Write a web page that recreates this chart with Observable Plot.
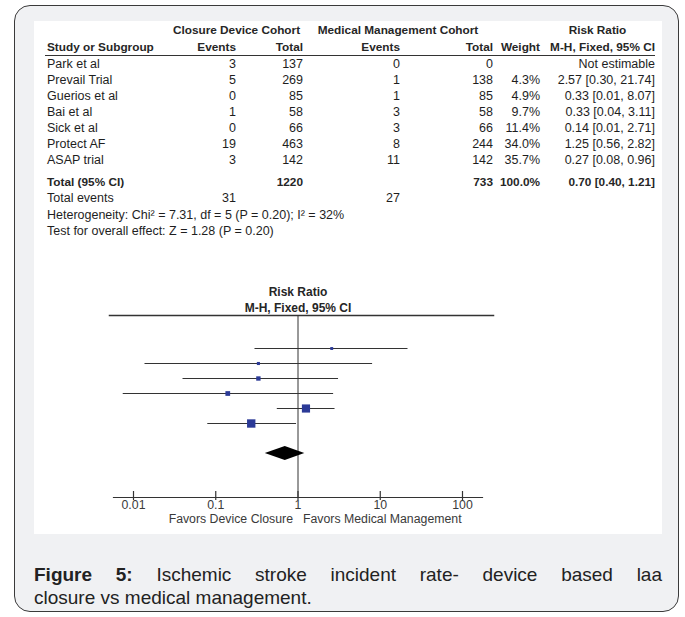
<!DOCTYPE html>
<html><head><meta charset="utf-8">
<script src="https://cdn.jsdelivr.net/npm/d3@7"></script>
<script src="https://cdn.jsdelivr.net/npm/@observablehq/plot@0.6"></script>
<style>
html,body{margin:0;padding:0;background:#fff;}
#page{position:relative;width:685px;height:617px;overflow:hidden;background:#fff;}
#frame{position:absolute;left:14px;top:5px;width:665px;height:607px;border:1.5px solid #3a3a3a;border-radius:16px;background:#f0f1f3;box-sizing:border-box;}
#panel{position:absolute;left:34px;top:21px;width:628px;height:513px;background:#fff;}
#tbl{position:absolute;left:11px;top:0.5px;border-collapse:collapse;table-layout:fixed;font-family:"Liberation Sans",Arial,sans-serif;font-size:12.5px;color:#1e1e1e;}
#tbl td{padding:0;white-space:nowrap;text-align:right;vertical-align:middle;overflow:visible;}
#tbl td.l{text-align:left;padding-left:2px;}
#tbl td.c{text-align:center;}
#tbl tr.b td{font-weight:bold;font-size:11.8px;color:#262626;}
#tbl tr.hd td{border-bottom:1.6px solid #333;}
#forest{position:absolute;left:0;top:255px;}
#caption{position:absolute;left:34px;top:563px;width:628px;font-family:"Liberation Sans",Arial,sans-serif;font-size:19px;line-height:23px;color:#222;}
#caption .l1{text-align:justify;text-align-last:justify;}
</style>
</head><body>
<div id="page">
  <div id="frame"></div>
  <div id="panel">
    <table id="tbl"></table>
    <div id="forest"></div>
  </div>
  <div id="caption"></div>
</div>
<script>
// ---- data ----
const studies   = ["Park et al","Prevail Trial","Guerios et al","Bai et al","Sick et al","Protect AF","ASAP trial"];
const cEvents   = [3,5,0,1,0,19,3];
const cTotal    = [137,269,85,58,66,463,142];
const mEvents   = [0,1,1,3,3,8,11];
const mTotal    = [0,138,85,58,66,244,142];
const weights   = [null,4.3,4.9,9.7,11.4,34.0,35.7];
const riskRatio = [null,2.57,0.33,0.33,0.14,1.25,0.27];
const ciLow     = [null,0.30,0.0138,0.04,0.0075,0.56,0.08];
const ciHigh    = [null,21.74,8.07,3.11,2.71,2.82,0.96];
const totalLabel = "Total (95% CI)";
const totalC = 1220, totalM = 733;
const totalEventsC = 31, totalEventsM = 27;
const pooled = {rr:0.70, lo:0.40, hi:1.21, weight:100.0};
const heterogeneityText = "Heterogeneity: Chi\u00b2 = 7.31, df = 5 (P = 0.20); I\u00b2 = 32%";
const overallText = "Test for overall effect: Z = 1.28 (P = 0.20)";
const tickValues = [0.01,0.1,1,10,100];
const favorsLeft = "Favors Device Closure";
const favorsRight = "Favors Medical Management";
const captionBold = "Figure 5:";
const captionLine1 = " Ischemic stroke incident rate- device based laa";
const captionLine2 = "closure vs medical management.";

const f2 = v => v.toFixed(2);
const ciText = (r,l,h) => r == null ? "Not estimable" : `${f2(r)} [${f2(l)}, ${f2(h)}]`;

// ---- table ----
const colW = [125,66,67,97,93,47,115];
let html = "<colgroup>" + colW.map(w=>`<col style="width:${w}px">`).join("") + "</colgroup>";
html += `<tr class="b" style="height:17px"><td></td><td class="c" colspan="2">Closure Device Cohort</td><td class="c" colspan="2">Medical Management Cohort</td><td></td><td class="c">Risk Ratio</td></tr>`;
html += `<tr class="b hd" style="height:17px"><td class="l">Study or Subgroup</td><td>Events</td><td>Total</td><td>Events</td><td>Total</td><td>Weight</td><td>M-H, Fixed, 95% CI</td></tr>`;
studies.forEach((s,i)=>{
  html += `<tr style="height:16px"><td class="l">${s}</td><td>${cEvents[i]}</td><td>${cTotal[i]}</td><td>${mEvents[i]}</td><td>${mTotal[i]}</td><td>${weights[i]==null?"":weights[i].toFixed(1)+"%"}</td><td>${ciText(riskRatio[i],ciLow[i],ciHigh[i])}</td></tr>`;
});
html += `<tr style="height:6px"><td colspan="7"></td></tr>`;
html += `<tr class="b" style="height:16px"><td class="l">${totalLabel}</td><td></td><td>${totalC}</td><td></td><td>${totalM}</td><td>${pooled.weight.toFixed(1)}%</td><td>${ciText(pooled.rr,pooled.lo,pooled.hi)}</td></tr>`;
html += `<tr style="height:17px"><td class="l">Total events</td><td>${totalEventsC}</td><td></td><td>${totalEventsM}</td><td></td><td></td><td></td></tr>`;
html += `<tr style="height:16.5px"><td class="l" colspan="7">${heterogeneityText}</td></tr>`;
html += `<tr style="height:16.5px"><td class="l" colspan="7">${overallText}</td></tr>`;
document.getElementById("tbl").innerHTML = html;

// ---- forest plot ----
const rows = studies.map((s,i)=>({study:s, rr:riskRatio[i], lo:ciLow[i], hi:ciHigh[i], weight:weights[i]})).filter(d=>d.rr!=null);
const yDomain = [...studies, " ", totalLabel];

const diamond = (index, scales) => {
  const x = scales.x, y = scales.y;
  const cy = y(totalLabel), h = 7;
  const pts = [[x(pooled.lo),cy],[x(pooled.rr),cy-h],[x(pooled.hi),cy],[x(pooled.rr),cy+h]];
  const g = d3.create("svg:g");
  g.append("polygon").attr("points", pts.map(p=>p.join(",")).join(" ")).attr("fill","#000");
  return g.node();
};

const forest = Plot.plot({
  width: 628, height: 258,
  marginLeft: 75, marginRight: 169, marginTop: 39, marginBottom: 37,
  style: {fontFamily: '"Liberation Sans", Arial, sans-serif', fontSize: "12.3px", color: "#333", background: "transparent", overflow: "visible"},
  x: {type: "log", domain: [0.01, 100], range: [99, 428], axis: null},
  y: {type: "point", domain: yDomain, range: [47, 186], axis: null},
  r: {type: "sqrt", domain: [0, 36], range: [0, 4.74]},
  marks: [
    Plot.frame({anchor: "top", stroke: "#333", strokeWidth: 1.5}),
    Plot.frame({anchor: "bottom", insetLeft: 4, insetRight: 11, stroke: "#333", strokeWidth: 1.2}),
    Plot.ruleX([1], {stroke: "#333", strokeWidth: 1}),
    Plot.ruleX(tickValues, {x: d=>d, insetTop: 182-6, insetBottom: -3, stroke: "#333", strokeWidth: 1.2}),
    Plot.text(tickValues, {x: d=>d, text: d=>String(d), frameAnchor: "bottom", dy: 11, fill: "#3a3a3a"}),
    Plot.text([favorsLeft], {x: 1, frameAnchor: "bottom", dy: 25, dx: -5, textAnchor: "end", fill: "#3a3a3a"}),
    Plot.text([favorsRight], {x: 1, frameAnchor: "bottom", dy: 25, dx: 5, textAnchor: "start", fill: "#3a3a3a"}),
    Plot.text(["Risk Ratio"], {x: 1, frameAnchor: "top", dy: -28, fontWeight: "bold", fill: "#262626", fontSize: 12}),
    Plot.text(["M-H, Fixed, 95% CI"], {x: 1, frameAnchor: "top", dy: -12, fontWeight: "bold", fill: "#262626", fontSize: 12}),
    Plot.ruleY(rows, {y: "study", x1: "lo", x2: "hi", stroke: "#333", strokeWidth: 1.2}),
    Plot.dot(rows, {x: "rr", y: "study", r: "weight", symbol: "square", fill: "#2b3a97", stroke: null}),
    diamond
  ]
});
document.getElementById("forest").appendChild(forest);

// ---- caption ----
document.getElementById("caption").innerHTML =
  `<div class="l1"><b>${captionBold}</b>${captionLine1}</div><div>${captionLine2}</div>`;
</script>
</body></html>
